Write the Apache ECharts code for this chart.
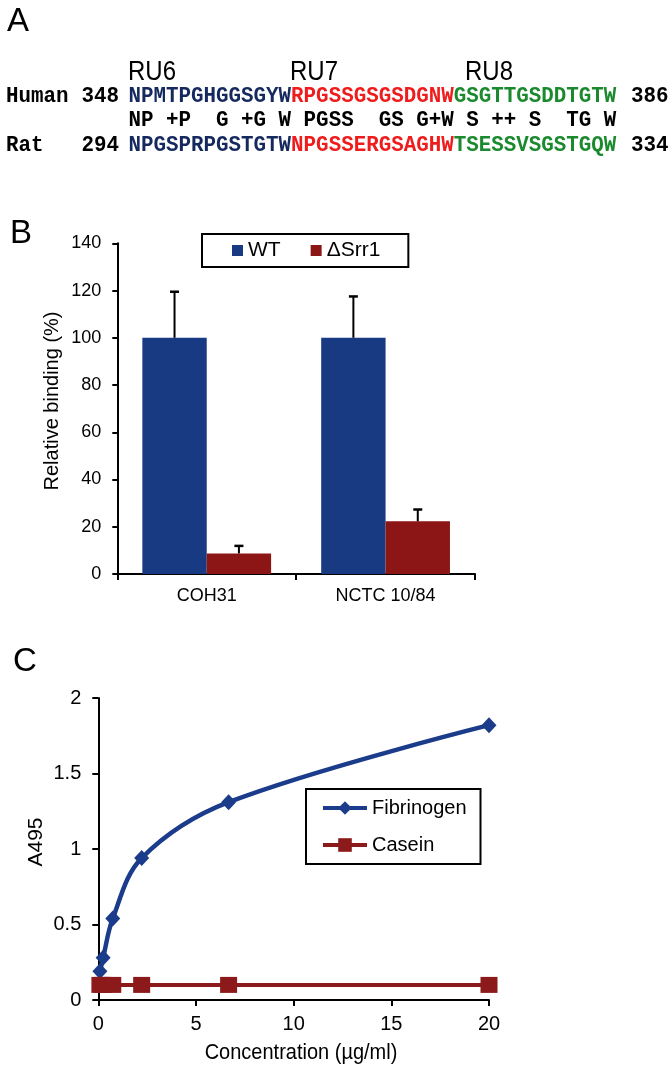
<!DOCTYPE html>
<html><head><meta charset="utf-8">
<script src="https://cdn.jsdelivr.net/npm/echarts@6/dist/echarts.min.js"></script>
<style>html,body{margin:0;padding:0;background:#fff}#c{width:672px;height:1069px}</style>
</head><body><div id="c"></div>
<script>
// ---- Panel A data ----
const humanSegments = ['NPMTPGHGGSGYW', 'RPGSSGSGSDGNW', 'GSGTTGSDDTGTW'];
const ratSegments = ['NPGSPRPGSTGTW', 'NPGSSERGSAGHW', 'TSESSVSGSTGQW'];
const matchLine = 'NP +P  G +G W PGSS  GS G+W S ++ S  TG W';
const repeatLabels = ['RU6', 'RU7', 'RU8'];
const humanRange = ['348', '386'];
const ratRange = ['294', '334'];
const speciesNames = ['Human', 'Rat'];

// ---- Panel B data ----
const strains = ['COH31', 'NCTC 10/84'];
const wtBinding = [100, 100];
const wtError = [19.5, 17.5];
const srrBinding = [8.7, 22.3];
const srrError = [3.2, 5];

// ---- Panel C data ----
const concentration = [0.082, 0.247, 0.74, 2.22, 6.67, 20];
const fibrinogen = [0.19, 0.28, 0.54, 0.94, 1.31, 1.82];
const casein = [0.1, 0.1, 0.1, 0.1, 0.1, 0.1];

// ---- styles ----
const SANS = '"Liberation Sans", Arial, sans-serif';
const MONO = '"Liberation Mono", "Courier New", monospace';
const segColors = ['#15295e', '#ee1c1c', '#1b8a2e'];
const BLUE = '#173a82', RED = '#8c1616';
const LBLUE = '#1b3c8a', LRED = '#8c1a1a';

const chart = echarts.init(document.getElementById('c'), null, {renderer: 'canvas'});

const charW = 12.51;
const monoSize = charW / 0.6;
const seqX = 128.5;
const rowY = [96, 120, 145];

function monoText(x, y, text, fill) {
  return {type: 'text', x: x, y: y, silent: true, scaleY: 1.08,
    style: {text: text, font: 'bold ' + monoSize + 'px ' + MONO, fill: fill || '#000',
      align: 'left', verticalAlign: 'middle', textAlign: 'left', textVerticalAlign: 'middle'}};
}
function seqRow(y, segs) {
  const rich = {};
  let txt = '';
  segs.forEach((s, i) => {
    rich['s' + i] = {fill: segColors[i], color: segColors[i], font: 'bold ' + monoSize + 'px ' + MONO};
    txt += '{s' + i + '|' + s + '}';
  });
  return {type: 'text', x: seqX, y: y, silent: true, scaleY: 1.08,
    style: {text: txt, rich: rich, font: 'bold ' + monoSize + 'px ' + MONO,
      align: 'left', verticalAlign: 'middle', textAlign: 'left', textVerticalAlign: 'middle'}};
}
function label(x, y, text, size, opts) {
  opts = opts || {};
  return Object.assign({type: 'text', x: x, y: y, silent: true,
    style: {text: text, font: size + 'px ' + SANS, fill: '#000',
      align: opts.align || 'left', verticalAlign: 'middle',
      textAlign: opts.align || 'left', textVerticalAlign: 'middle'}}, opts.extra || {});
}

const ruX = [129, 291, 466];
const graphics = [
  label(7, 22, 'A', 33),
  label(10, 234, 'B', 33),
  label(13, 662, 'C', 33),
];
repeatLabels.forEach((t, i) => graphics.push(label(ruX[i] - 1, 73, t, 24, {extra: {scaleY: 1.12}})));
graphics.push(monoText(6, rowY[0], speciesNames[0]));
graphics.push(monoText(81.5, rowY[0], humanRange[0]));
graphics.push(seqRow(rowY[0], humanSegments));
graphics.push(monoText(631, rowY[0], humanRange[1]));
graphics.push(monoText(seqX, rowY[1], matchLine));
graphics.push(monoText(6, rowY[2], speciesNames[1]));
graphics.push(monoText(81.5, rowY[2], ratRange[0]));
graphics.push(seqRow(rowY[2], ratSegments));
graphics.push(monoText(631, rowY[2], ratRange[1]));
// axis titles
graphics.push(label(52, 401, 'Relative binding (%)', 20, {align: 'center', extra: {rotation: Math.PI / 2, scaleY: 1.05}}));
graphics.push(label(36, 842, 'A495', 21, {align: 'center', extra: {rotation: Math.PI / 2}}));
graphics.push(label(301, 1053, 'Concentration (\u00b5g/ml)', 20, {align: 'center', extra: {scaleY: 1.08}}));

const barCatGap = 0.28;
function errSeries(name, values, errors, sign) {
  return {
    type: 'custom', name: name, xAxisIndex: 0, yAxisIndex: 0, silent: true, z: 5,
    data: values.map((v, i) => [i, v, errors[i]]),
    renderItem: function (params, api) {
      const idx = api.value(0), v = api.value(1), e = api.value(2);
      const band = api.size([1, 0])[0];
      const bw = band * (1 - barCatGap) / 2;
      const base = api.coord([idx, v]);
      const top = api.coord([idx, v + e]);
      const x = base[0] + sign * bw / 2;
      const cap = 4.5;
      return {type: 'group', children: [
        {type: 'line', shape: {x1: x, y1: base[1], x2: x, y2: top[1]}, style: {stroke: '#000', lineWidth: 2}},
        {type: 'line', shape: {x1: x - cap, y1: top[1], x2: x + cap, y2: top[1]}, style: {stroke: '#000', lineWidth: 2.5}}
      ]};
    }
  };
}

const axisLineStyle = {color: '#000', width: 2};
const option = {
  animation: false,
  backgroundColor: '#fff',
  textStyle: {fontFamily: SANS},
  grid: [
    {left: 117.3, top: 243.3, width: 357.7, height: 330.7, containLabel: false, outerBoundsMode: 'none'},
    {left: 98.3, top: 698, width: 390.7, height: 302, containLabel: false, outerBoundsMode: 'none'}
  ],
  xAxis: [
    {gridIndex: 0, type: 'category', data: strains,
      axisLine: {show: true, lineStyle: axisLineStyle},
      axisTick: {show: true, length: 6, lineStyle: axisLineStyle},
      axisLabel: {fontSize: 18, color: '#000', margin: 13, fontFamily: SANS},
      splitLine: {show: false}},
    {gridIndex: 1, type: 'value', min: 0, max: 20, interval: 5,
      axisLine: {show: true, onZero: false, lineStyle: axisLineStyle},
      axisTick: {show: true, length: 6, lineStyle: axisLineStyle},
      axisLabel: {fontSize: 20, color: '#000', margin: 14, fontFamily: SANS},
      splitLine: {show: false}}
  ],
  yAxis: [
    {gridIndex: 0, type: 'value', min: 0, max: 140, interval: 20,
      axisLine: {show: true, lineStyle: axisLineStyle},
      axisTick: {show: true, length: 5, lineStyle: axisLineStyle},
      axisLabel: {fontSize: 18, color: '#000', margin: 16, fontFamily: SANS},
      splitLine: {show: false}},
    {gridIndex: 1, type: 'value', min: 0, max: 2, interval: 0.5,
      axisLine: {show: true, onZero: false, lineStyle: axisLineStyle},
      axisTick: {show: true, length: 6, lineStyle: axisLineStyle},
      axisLabel: {fontSize: 20, color: '#000', margin: 17, fontFamily: SANS},
      splitLine: {show: false}}
  ],
  legend: [
    {data: ['WT', '\u0394Srr1'], left: 202, top: 234, orient: 'horizontal',
      icon: 'rect', itemWidth: 11, itemHeight: 11, itemGap: 30,
      padding: [6, 28, 6, 30], borderColor: '#000', borderWidth: 2, backgroundColor: '#fff',
      textStyle: {fontSize: 21, color: '#000', fontFamily: SANS}, selectedMode: false},
    {data: ['Fibrinogen', 'Casein'], left: 306, top: 789, orient: 'vertical',
      itemWidth: 44, itemHeight: 17, itemGap: 17,
      lineStyle: {width: 4},
      padding: [9, 14, 9, 15], borderColor: '#000', borderWidth: 2, backgroundColor: '#fff',
      textStyle: {fontSize: 20, color: '#000', fontFamily: SANS}, selectedMode: false}
  ],
  graphic: graphics,
  series: [
    {type: 'bar', name: 'WT', xAxisIndex: 0, yAxisIndex: 0, data: wtBinding,
      itemStyle: {color: BLUE}, barGap: '0%', barCategoryGap: (barCatGap * 100) + '%'},
    {type: 'bar', name: '\u0394Srr1', xAxisIndex: 0, yAxisIndex: 0, data: srrBinding,
      itemStyle: {color: RED}, barGap: '0%', barCategoryGap: (barCatGap * 100) + '%'},
    errSeries('WT err', wtBinding, wtError, -1),
    errSeries('Srr err', srrBinding, srrError, 1),
    {type: 'line', name: 'Fibrinogen', xAxisIndex: 1, yAxisIndex: 1,
      data: concentration.map((c, i) => [c, fibrinogen[i]]),
      symbol: 'diamond', symbolSize: [15, 16], smooth: 0.35, clip: false,
      lineStyle: {color: LBLUE, width: 4.5}, itemStyle: {color: LBLUE}},
    {type: 'line', name: 'Casein', xAxisIndex: 1, yAxisIndex: 1,
      data: concentration.map((c, i) => [c, casein[i]]),
      symbol: 'rect', symbolSize: [17, 16], smooth: 0.35, clip: false,
      lineStyle: {color: LRED, width: 4}, itemStyle: {color: LRED}}
  ]
};
chart.setOption(option);
</script></body></html>
